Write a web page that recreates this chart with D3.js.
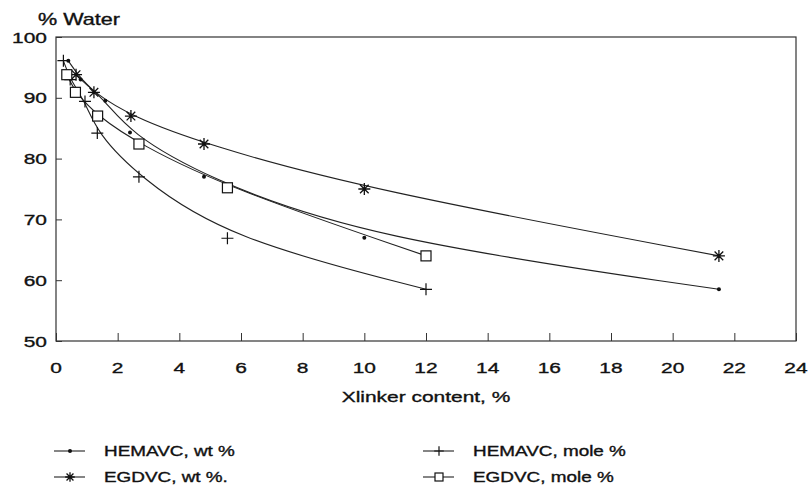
<!DOCTYPE html>
<html>
<head>
<meta charset="utf-8">
<script src="https://cdn.jsdelivr.net/npm/d3@7"></script>
<style>
  body { margin: 0; background: #fff; }
  text { font-family: "Liberation Sans", Arial, sans-serif; fill: #111; stroke: #111; stroke-width: 0.35px; }
</style>
</head>
<body>
<div id="chart"></div>
<script>
// tick labels
const xTicks = [0, 2, 4, 6, 8, 10, 12, 14, 16, 18, 20, 22, 24];
const yTicks = [50, 60, 70, 80, 90, 100];

// series: [xlinker %, water %]
const hemavcWt = [[0.4, 96.1], [0.8, 93.0], [1.6, 89.5], [2.4, 84.3], [4.8, 77.0], [10, 67.0], [21.5, 58.5]];
const hemavcMole = [[0.24, 96.1], [0.46, 93.0], [0.94, 89.4], [1.34, 84.2], [2.69, 77.0], [5.56, 66.9], [12, 58.5]];
const egdvcWt = [[0.65, 93.8], [1.23, 90.9], [2.43, 87.0], [4.8, 82.4], [10, 75.0], [21.5, 64.0]];
const egdvcMole = [[0.35, 93.8], [0.63, 90.9], [1.35, 87.0], [2.69, 82.4], [5.56, 75.2], [12, 64.0]];

const series = [
  { name: "HEMAVC, wt %", values: hemavcWt, symbol: "dot" },
  { name: "HEMAVC, mole %", values: hemavcMole, symbol: "plus" },
  { name: "EGDVC, wt %.", values: egdvcWt, symbol: "star" },
  { name: "EGDVC, mole %", values: egdvcMole, symbol: "square" }
];

const width = 809;
const height = 491;
const margin = { top: 37, right: 13, bottom: 150, left: 56 };
const sx = 1.35; // the old plotter lettering is wide

const svg = d3
  .select("#chart")
  .append("svg")
  .attr("width", width)
  .attr("height", height);

const x = d3.scaleLinear().domain([0, 24]).range([margin.left, width - margin.right]);
const y = d3.scaleLinear().domain([50, 100]).range([height - margin.bottom, margin.top]);

// wide text: scale horizontally around the anchor point
function wideText(parent, tx, ty, str, size, anchor) {
  return parent.append("text")
    .attr("transform", `translate(${tx},${ty}) scale(${sx},1)`)
    .attr("text-anchor", anchor || "start")
    .style("font-size", size + "px")
    .text(str);
}

// marker drawing
function drawSymbol(g, type, cx, cy, s) {
  s = s || 1;
  if (type === "dot") {
    g.append("circle").attr("cx", cx).attr("cy", cy).attr("r", 2).attr("fill", "#111");
  } else if (type === "plus") {
    const r = 6 * s;
    g.append("path")
      .attr("d", `M${cx - r},${cy}H${cx + r}M${cx},${cy - r}V${cy + r}`)
      .attr("stroke", "#111").attr("stroke-width", 1.2).attr("fill", "none");
  } else if (type === "star") {
    const r = 6 * s, d = r * 0.72;
    g.append("path")
      .attr("d", `M${cx - r},${cy}H${cx + r}M${cx},${cy - r}V${cy + r}` +
        `M${cx - d},${cy - d}L${cx + d},${cy + d}M${cx - d},${cy + d}L${cx + d},${cy - d}`)
      .attr("stroke", "#111").attr("stroke-width", 1.3).attr("fill", "none");
  } else if (type === "square") {
    const h = 5 * s;
    g.append("rect").attr("x", cx - h).attr("y", cy - h).attr("width", 2 * h).attr("height", 2 * h)
      .attr("fill", "#fff").attr("stroke", "#111").attr("stroke-width", 1.2);
  }
}

// frame
svg.append("rect")
  .attr("x", x(0)).attr("y", y(100))
  .attr("width", x(24) - x(0)).attr("height", y(50) - y(100))
  .attr("fill", "none").attr("stroke", "#333").attr("stroke-width", 1.2);

// axes with inward ticks, labels drawn separately
svg.append("g")
  .attr("transform", `translate(0,${y(50)})`)
  .call(d3.axisBottom(x).tickValues(xTicks).tickSize(-8).tickFormat(""))
  .call((g) => g.select(".domain").remove());

svg.append("g")
  .attr("transform", `translate(${x(0)},0)`)
  .call(d3.axisLeft(y).tickValues(yTicks).tickSize(-6).tickFormat(""))
  .call((g) => g.select(".domain").remove());

svg.selectAll(".tick line").attr("stroke", "#333");

xTicks.forEach((t) => wideText(svg, x(t), 373, t, 15.5, "middle"));
yTicks.forEach((t) => wideText(svg, x(0) - 9, y(t) + 5.5, t, 15.5, "end"));

// axis titles
wideText(svg, 38, 25, "% Water", 16, "start");
wideText(svg, (x(0) + x(24)) / 2, 402, "Xlinker content, %", 15.5, "middle");

// curves
const line = d3.line()
  .x((d) => x(d[0]))
  .y((d) => y(d[1]))
  .curve(d3.curveBasis);

series.forEach((s) => {
  svg.append("path")
    .datum(s.values)
    .attr("d", line)
    .attr("fill", "none")
    .attr("stroke", "#222")
    .attr("stroke-width", 1.1);
});

series.forEach((s) => {
  const g = svg.append("g");
  s.values.forEach((d) => drawSymbol(g, s.symbol, x(d[0]), y(d[1])));
});

// legend
const legendPos = [
  { x: 54, y: 451 },
  { x: 423, y: 451 },
  { x: 54, y: 477 },
  { x: 423, y: 477 }
];
series.forEach((s, i) => {
  const p = legendPos[i];
  const g = svg.append("g");
  g.append("line")
    .attr("x1", p.x).attr("x2", p.x + 31)
    .attr("y1", p.y).attr("y2", p.y)
    .attr("stroke", "#222").attr("stroke-width", 1.1);
  drawSymbol(g, s.symbol, p.x + 16, p.y, 0.8);
  wideText(g, p.x + 50, p.y + 5, s.name, 14, "start");
});
</script>
</body>
</html>
